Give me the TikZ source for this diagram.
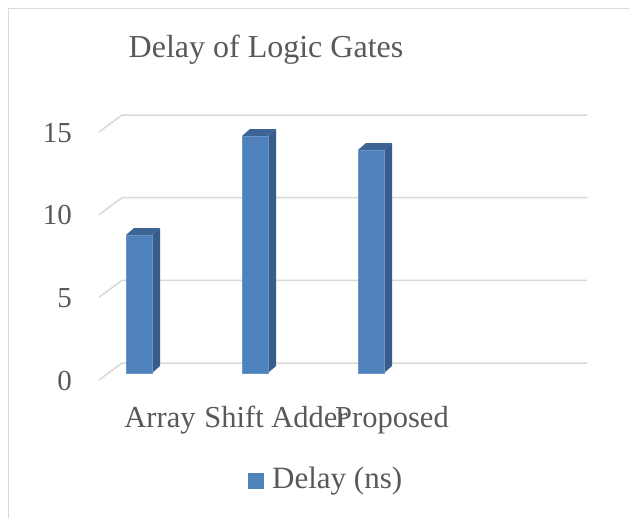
\documentclass[tikz,border=0pt]{standalone}
\usepackage{fontspec}
\setmainfont{Liberation Serif}
\usetikzlibrary{calc}
\definecolor{txt}{HTML}{595959}
\definecolor{gridc}{HTML}{D9D9D9}
\definecolor{barfront}{HTML}{4F81BD}
\definecolor{barside}{HTML}{385D8A}
\definecolor{bartop}{HTML}{3C6494}
\begin{document}
\begin{tikzpicture}[x=1pt,y=-1pt,
  gridline/.style={draw=gridc,line width=1.5pt},
  framebox/.style={draw=gridc,line width=1.5pt},
  titletext/.style={text=txt,font=\fontsize{32}{38}\selectfont,inner sep=0pt},
  labeltext/.style={text=txt,font=\fontsize{31}{36}\selectfont,inner sep=0pt},
  cattext/.style={text=txt,font=\fontsize{30.5}{36}\selectfont,inner sep=0pt,anchor=base},
  axistext/.style={text=txt,font=\fontsize{29}{34}\selectfont,inner sep=0pt,anchor=base east},
  frontface/.style={fill=barfront,draw=barfront!85!white,line width=0.4pt},
  sideface/.style={fill=barside},
  topface/.style={fill=bartop}]
\useasboundingbox (0,0) rectangle (629,517);
\fill[white] (0,0) rectangle (629,517);
% frame
\draw[framebox] (8.5,540) -- (8.5,8.5) -- (660,8.5);
% title
\node[titletext,anchor=base] (title) at (266,57) {Delay of Logic Gates};
% gridlines and axis labels
\foreach \v/\yb in {0/363,5/280.3,10/197.7,15/115}{
  \draw[gridline] (99,\yb+17) -- (122,\yb) -- (587,\yb);
  \node[axistext] (ax\v) at (72,\yb+27) {\v};
}
% bars: left x, front top y
\foreach \n/\xl/\yt in {a/126/235,b/242/136,c/358/150}{
  \coordinate (\n fl) at (\xl,373);
  \coordinate (\n fr) at (\xl+26,373);
  \coordinate (\n tl) at (\xl,\yt);
  \coordinate (\n tr) at (\xl+26,\yt);
  \fill[sideface] (\n fr) -- (\n tr) -- ++(8,-7) -- ($(\n fr)+(8,-7)$) -- cycle;
  \fill[topface] (\n tl) -- (\n tr) -- ++(8,-7) -- ($(\n tl)+(8,-7)$) -- cycle;
  \filldraw[frontface] (\n fl) rectangle (\n tr);
}
% category labels
\node[cattext] (cat1) at (160,427) {Array};
\node[cattext] (cat2) at (276,427) {Shift Adder};
\node[cattext] (cat3) at (392,427) {Proposed};
% legend
\fill[barfront] (248,473) rectangle (264,489);
\node[labeltext,anchor=base west] (leg) at (272,488) {Delay (ns)};
\end{tikzpicture}
\end{document}
